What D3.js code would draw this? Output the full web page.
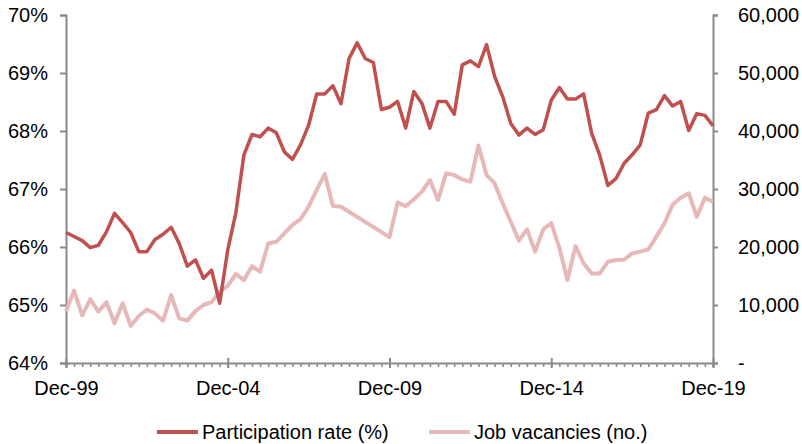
<!DOCTYPE html>
<html>
<head>
<meta charset="utf-8">
<script src="https://cdn.jsdelivr.net/npm/d3@7"></script>
<style>
  body { margin: 0; background: #fff; }
  svg { display: block; font-family: "Liberation Sans", Arial, sans-serif; }
</style>
</head>
<body>
<div id="chart"></div>
<script>
var width = 802;
var height = 444;

// quarterly, Dec-99 .. Dec-19 (index 0..80)
var xTickIdx = [0, 20, 40, 60, 80];
var xTickLabels = ["Dec-99", "Dec-04", "Dec-09", "Dec-14", "Dec-19"];
var leftTicks = [64, 65, 66, 67, 68, 69, 70];
var rightTicks = [0, 10000, 20000, 30000, 40000, 50000, 60000];
var seriesNames = ["Participation rate (%)", "Job vacancies (no.)"];

var participation = [
    66.25, 66.18, 66.11, 65.99, 66.03, 66.26, 66.58, 66.42, 66.25, 65.92,
    65.92, 66.13, 66.22, 66.34, 66.06, 65.67, 65.78, 65.46, 65.60, 65.03,
    65.95, 66.59, 67.59, 67.94, 67.90, 68.05, 67.97, 67.64, 67.51, 67.76,
    68.10, 68.64, 68.64, 68.78, 68.47, 69.25, 69.52, 69.25, 69.18, 68.37,
    68.41, 68.51, 68.05, 68.68, 68.48, 68.05, 68.51, 68.51, 68.29, 69.14,
    69.21, 69.11, 69.49, 68.94, 68.59, 68.13, 67.93, 68.05, 67.94, 68.02,
    68.53, 68.75, 68.55, 68.55, 68.64, 67.96, 67.58, 67.06, 67.18, 67.44,
    67.59, 67.76, 68.31, 68.37, 68.61, 68.43, 68.51, 68.01, 68.30, 68.27,
    68.09
];

// survey suspended 2008-09 -> nulls, line joins across the gap
var vacancies = [
    8900, 12500, 8200, 11000, 8850, 10500, 6850, 10300, 6400, 8100,
    9200, 8550, 7300, 11700, 7700, 7300, 8950, 10000, 10500, 12300,
    13300, 15350, 14300, 16700, 15750, 20600, 20900, 22350, 23800, 24800,
    26950, 29850, 32600, 27050, 26950, null, null, null, null, null,
    21700, 27700, 27050, 28200, 29550, 31550, 28100, 32700, 32400, 31650,
    31250, 37500, 32400, 31000, 27500, 24350, 21100, 23050, 19200, 23050,
    24100, 19900, 14300, 20150, 17200, 15450, 15450, 17450, 17750, 17800,
    18900, 19200, 19600, 21800, 24100, 27300, 28500, 29250, 25200, 28500,
    27800
];

var colRed = "#C0504D";
var colPink = "#E6B9B8";
var colAxis = "#898989";

var svg = d3.select("#chart").append("svg")
    .attr("width", width)
    .attr("height", height);

var x = d3.scaleLinear().domain([0, 80]).range([66, 713]);
var yL = d3.scaleLinear().domain([64, 70]).range([363, 15]);
var yR = d3.scaleLinear().domain([0, 60000]).range([363, 15]);

function styleAxis(g) {
    g.select(".domain").attr("stroke", colAxis).attr("stroke-width", 2);
    g.selectAll(".tick line").attr("stroke", colAxis).attr("stroke-width", 2);
    g.selectAll("text").attr("fill", "#000").style("font-size", "20px")
        .style("font-family", "Liberation Sans, Arial, sans-serif");
}

// left axis
var leftAxis = d3.axisLeft(yL).tickValues(leftTicks)
    .tickSize(6).tickPadding(12).tickFormat(d => d + "%");
svg.append("g").attr("transform", "translate(66,0)")
    .call(leftAxis).call(styleAxis);

// right axis
var rightAxis = d3.axisRight(yR).tickValues(rightTicks)
    .tickSize(5).tickPadding(20)
    .tickFormat(d => d === 0 ? "-" : d3.format(",")(d));
svg.append("g").attr("transform", "translate(713,0)")
    .call(rightAxis).call(styleAxis);

// x axis: quarterly minor ticks + labelled majors
var minorAxis = d3.axisBottom(x).tickValues(d3.range(0, 81))
    .tickSize(4).tickFormat("");
svg.append("g").attr("transform", "translate(0,363)")
    .call(minorAxis).call(styleAxis)
    .selectAll(".tick line").attr("stroke-width", 1.5);

var majorAxis = d3.axisBottom(x).tickValues(xTickIdx)
    .tickSize(5).tickPadding(13)
    .tickFormat((d, i) => xTickLabels[i]);
var gMajor = svg.append("g").attr("transform", "translate(0,363)")
    .call(majorAxis).call(styleAxis);
gMajor.select(".domain").remove();
gMajor.selectAll(".tick line").attr("y1", -5);

// lines
var lineL = d3.line()
    .defined(d => d != null)
    .x((d, i) => x(i))
    .y(d => yL(d));

var vacPts = vacancies.map((v, i) => ({i: i, v: v})).filter(d => d.v != null);
var lineR = d3.line()
    .x(d => x(d.i))
    .y(d => yR(d.v));

svg.append("path")
    .datum(vacPts)
    .attr("d", lineR)
    .attr("fill", "none")
    .attr("stroke", colPink)
    .attr("stroke-width", 4)
    .attr("stroke-linejoin", "round");

svg.append("path")
    .datum(participation)
    .attr("d", lineL)
    .attr("fill", "none")
    .attr("stroke", colRed)
    .attr("stroke-width", 3.5)
    .attr("stroke-linejoin", "round");

// legend
var legendItems = [
    {name: seriesNames[0], color: colRed, x: 157},
    {name: seriesNames[1], color: colPink, x: 429}
];
var legend = svg.selectAll(".legend")
    .data(legendItems)
    .enter()
    .append("g")
    .attr("class", "legend")
    .attr("transform", d => "translate(" + d.x + ",432)");
legend.append("line")
    .attr("x1", 0).attr("x2", 41)
    .attr("y1", 0).attr("y2", 0)
    .attr("stroke", d => d.color)
    .attr("stroke-width", 4);
legend.append("text")
    .attr("x", 45)
    .attr("y", 7)
    .text(d => d.name)
    .style("font-size", "20px")
    .attr("fill", "#000");
</script>
</body>
</html>
